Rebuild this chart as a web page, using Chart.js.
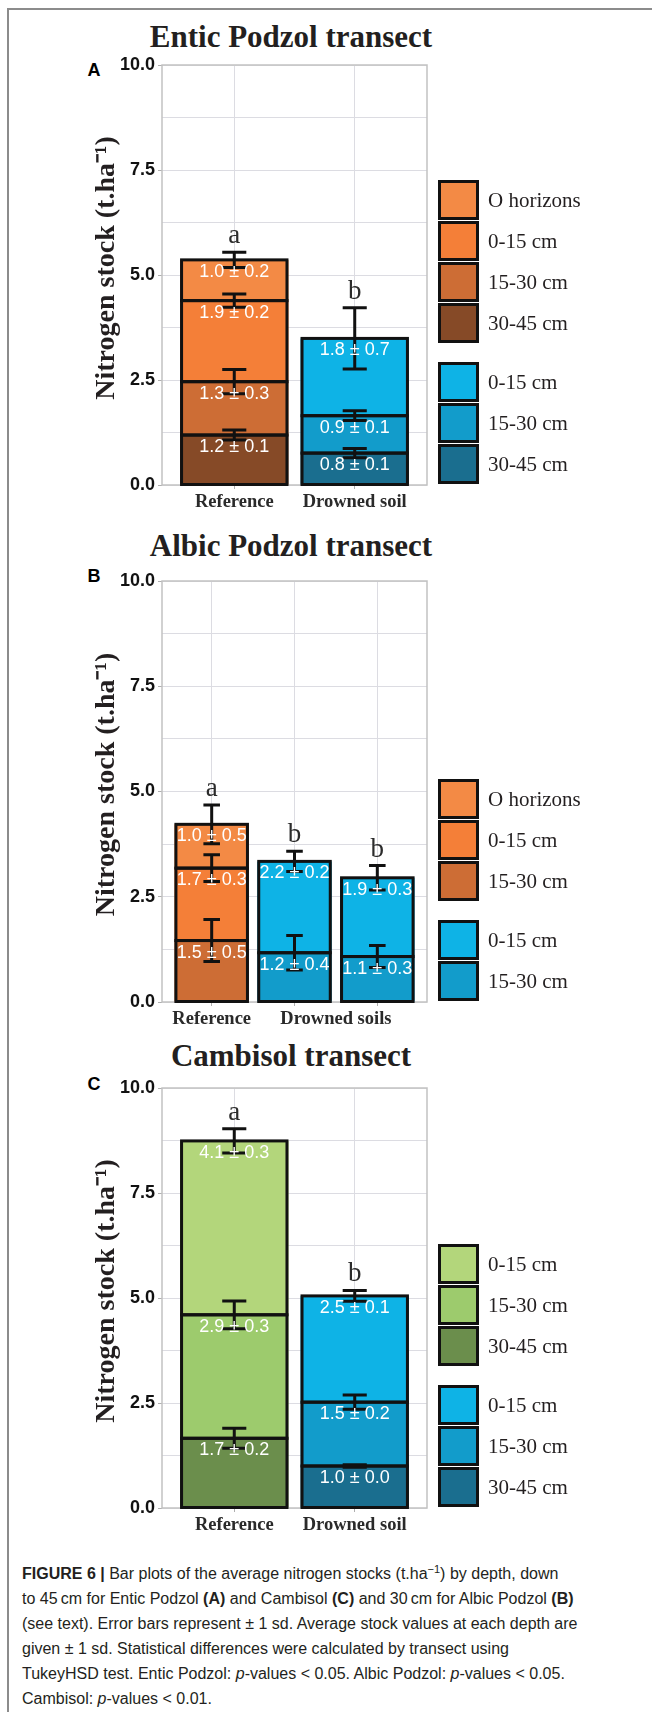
<!DOCTYPE html>
<html>
<head>
<meta charset="utf-8">
<script src="https://cdn.jsdelivr.net/npm/chart.js@4.4.0/dist/chart.umd.min.js"></script>
<style>
  body { margin: 0; background: #fff; }
  #page { position: relative; width: 652px; height: 1712px; overflow: hidden; font-family: 'Liberation Sans', Arial, sans-serif; }
  .frame { position: absolute; left: 7px; top: 8px; width: 700px; height: 1800px; border-left: 2px solid #8c8c8c; border-top: 2px solid #8c8c8c; }
  .ptitle { position: absolute; left: 0; width: 582px; text-align: center; font: bold 31px 'Liberation Serif', serif; color: #231f20; line-height: 36px; }
  .pletter { position: absolute; left: 84px; width: 20px; text-align: center; font: bold 18px 'Liberation Sans', Arial, sans-serif; line-height: 20px; color: #000; }
  canvas { position: absolute; left: 0; }
  .sw { position: absolute; left: 438px; width: 41px; height: 40px; box-sizing: border-box; border: 3px solid #111; }
  .swl { position: absolute; left: 488px; font: 21px 'Liberation Serif', serif; color: #231f20; line-height: 40px; white-space: nowrap; }
  .cap { position: absolute; left: 22px; font-size: 16px; line-height: 25px; color: #231f20; white-space: nowrap; }
  .cap sup { font-size: 11px; line-height: 0; }
</style>
</head>
<body>
<div id="page">
  <div class="frame"></div>

  <div class="ptitle" style="top:19px">Entic Podzol transect</div>
  <div class="pletter" style="top:60px">A</div>
  <canvas id="chartA" width="440" height="479" style="top:40px"></canvas>

  <div class="ptitle" style="top:528px">Albic Podzol transect</div>
  <div class="pletter" style="top:566px">B</div>
  <canvas id="chartB" width="440" height="480" style="top:556px"></canvas>

  <div class="ptitle" style="top:1038px">Cambisol transect</div>
  <div class="pletter" style="top:1074px">C</div>
  <canvas id="chartC" width="440" height="479" style="top:1063px"></canvas>

  <div id="legends"></div>

  <div class="cap" style="top:1561px"><b>FIGURE 6 |</b> Bar plots of the average nitrogen stocks (t.ha<sup>&minus;1</sup>) by depth, down</div>
  <div class="cap" style="top:1586px">to 45&thinsp;cm for Entic Podzol <b>(A)</b> and Cambisol <b>(C)</b> and 30&thinsp;cm for Albic Podzol <b>(B)</b></div>
  <div class="cap" style="top:1611px">(see text). Error bars represent &plusmn; 1 sd. Average stock values at each depth are</div>
  <div class="cap" style="top:1636px">given &plusmn; 1 sd. Statistical differences were calculated by transect using</div>
  <div class="cap" style="top:1661px">TukeyHSD test. Entic Podzol: <i>p</i>-values &lt; 0.05. Albic Podzol: <i>p</i>-values &lt; 0.05.</div>
  <div class="cap" style="top:1686px">Cambisol: <i>p</i>-values &lt; 0.01.</div>
</div>

<script>
// y axis
const yTicks = [0, 2.5, 5, 7.5, 10];

// A - Entic Podzol transect
const enticBars = ['Reference', 'Drowned soil'];
const entic3045 = [1.19, 0.76];
const entic1530 = [1.27, 0.89];
const entic015 = [1.93, 1.84];
const enticO = [0.97, null];
const enticSd3045 = [0.12, 0.11];
const enticSd1530 = [0.29, 0.115];
const enticSd015 = [0.16, 0.73];
const enticSdO = [0.18, null];
const enticLetters = ['a', 'b'];

// B - Albic Podzol transect
const albicBars = ['Reference', 'Drowned soils', 'Drowned soils'];
const albic1530 = [1.46, 1.17, 1.08];
const albic015 = [1.72, 2.17, 1.87];
const albicO = [1.04, null, null];
const albicSd1530 = [0.50, 0.41, 0.26];
const albicSd015 = [0.32, 0.24, 0.29];
const albicSdO = [0.46, null, null];
const albicLetters = ['a', 'b', 'b'];

// C - Cambisol transect
const cambiBars = ['Reference', 'Drowned soil'];
const cambi3045 = [1.66, 1.00];
const cambi1530 = [2.94, 1.52];
const cambi015 = [4.14, 2.53];
const cambiSd3045 = [0.24, 0.03];
const cambiSd1530 = [0.33, 0.17];
const cambiSd015 = [0.29, 0.13];
const cambiLetters = ['a', 'b'];

// colours [reference, drowned]
const colO = ['#F38A45', null];
const col015 = ['#F47F38', '#0EB3E6'];
const col1530 = ['#CD6D35', '#129CCB'];
const col3045 = ['#864A27', '#1A6E8F'];
const green015 = ['#B3D67B', '#0EB3E6'];
const green1530 = ['#9DCB6D', '#129CCB'];
const green3045 = ['#6B8E4C', '#1A6E8F'];

const serif = "'Liberation Serif', 'Times New Roman', serif";
const sans = "'Liberation Sans', Arial, sans-serif";

function marks(sds, letters) {
  return {
    id: 'marks',
    beforeDatasetsDraw(chart) {
      const { ctx, chartArea: a } = chart;
      ctx.save();
      ctx.strokeStyle = '#C2C2C2';
      ctx.lineWidth = 1.5;
      ctx.strokeRect(a.left, a.top, a.right - a.left, a.bottom - a.top);
      ctx.restore();
    },
    afterDatasetsDraw(chart) {
      const { ctx, scales: { x, y } } = chart;
      const sets = chart.data.datasets;
      const n = sets[0].data.length;
      const texts = [];
      ctx.save();
      // black outline of every stacked segment (drawn over the fills so no seams)
      ctx.strokeStyle = '#111';
      ctx.lineWidth = 3;
      sets.forEach((d, i) => {
        chart.getDatasetMeta(i).data.forEach((el, j) => {
          if (d.data[j].y == null) return;
          const w = el.width - 3;
          ctx.strokeRect(el.x - w / 2, el.y, w, el.base - el.y);
        });
      });
      for (let j = 0; j < n; j++) {
        let cum = 0, top = 0;
        const xm = x.getPixelForValue(j + 1);
        const xl = x.getPixelForValue(j + 0.9);
        const xr = x.getPixelForValue(j + 1.1);
        sets.forEach((d, i) => {
          const v = d.data[j].y;
          if (v == null) return;
          cum += v;
          const sd = sds[i][j];
          const y1 = y.getPixelForValue(cum + sd);
          const y0 = y.getPixelForValue(cum - sd);
          ctx.strokeStyle = '#111';
          ctx.lineWidth = 3;
          ctx.beginPath();
          ctx.moveTo(xm, y1); ctx.lineTo(xm, y0);
          ctx.moveTo(xl, y1); ctx.lineTo(xr, y1);
          ctx.moveTo(xl, y0); ctx.lineTo(xr, y0);
          ctx.stroke();
          texts.push([v.toFixed(1) + ' \u00b1 ' + sd.toFixed(1), xm, y.getPixelForValue(cum) + 12]);
          top = cum + sd;
        });
        ctx.fillStyle = '#2b2b2b';
        ctx.font = '27px ' + serif;
        ctx.textAlign = 'center';
        ctx.textBaseline = 'alphabetic';
        ctx.fillText(letters[j], xm, y.getPixelForValue(top) - 9);
      }
      ctx.fillStyle = '#fff';
      ctx.font = '18px ' + sans;
      ctx.textAlign = 'center';
      ctx.textBaseline = 'middle';
      texts.forEach(t => ctx.fillText(t[0], t[1], t[2]));
      ctx.restore();
    }
  };
}

function makePanel(id, bars, layers, sds, letters) {
  const groups = [];
  bars.forEach((b, i) => {
    let g = groups.find(q => q.name === b);
    if (!g) { g = { name: b, idx: [] }; groups.push(g); }
    g.idx.push(i + 1);
  });
  groups.forEach(g => { g.pos = g.idx.reduce((s, v) => s + v, 0) / g.idx.length; });

  const datasets = layers.map(l => ({
    label: l.label,
    data: l.values.map((v, i) => ({ x: i + 1, y: v })),
    backgroundColor: bars.map(b => b === 'Reference' ? l.colors[0] : l.colors[1]),
    borderWidth: 0,
    categoryPercentage: 0.9,
    barPercentage: 1
  }));

  const xMin = 0.4, xMax = bars.length + 0.6;
  return new Chart(document.getElementById(id), {
    type: 'bar',
    data: { datasets },
    options: {
      responsive: false,
      animation: false,
      layout: { padding: { left: 90, top: 25, right: 13, bottom: 0 } },
      plugins: { legend: { display: false }, tooltip: { enabled: false } },
      scales: {
        x: {
          type: 'linear', stacked: true, min: xMin, max: xMax, offset: false,
          afterBuildTicks: s => { s.ticks = bars.map((b, i) => ({ value: i + 1 })); },
          ticks: { display: false },
          grid: { offset: false, color: '#DCDCE2', lineWidth: 1, drawTicks: true, tickLength: 4, tickColor: '#AFAFAF' },
          border: { display: false },
          afterFit: s => { s.height = 4; }
        },
        x2: {
          type: 'linear', position: 'bottom', min: xMin, max: xMax, offset: false,
          afterBuildTicks: s => { s.ticks = groups.map(g => ({ value: g.pos })); },
          ticks: {
            autoSkip: false, maxRotation: 0, padding: 2, color: '#2a2a2a',
            font: { family: serif, size: 18.5, weight: 'bold' },
            callback: (v, i) => groups[i].name
          },
          grid: { display: false, drawTicks: false, offset: false },
          border: { display: false },
          afterFit: s => { s.height = 30; }
        },
        y: {
          stacked: true, min: 0, max: 10,
          ticks: {
            stepSize: 1.25, autoSkip: false, padding: 3, color: '#111',
            font: { family: sans, size: 18, weight: 'bold' },
            callback: v => yTicks.includes(v) ? v.toFixed(1) : ''
          },
          grid: {
            color: '#DCDCE2', lineWidth: 1, drawTicks: true, tickLength: 4,
            tickColor: c => yTicks.includes(c.tick.value) ? '#AFAFAF' : 'rgba(0,0,0,0)'
          },
          border: { display: false },
          title: {
            display: true, text: '\u2002Nitrogen stock (t.ha\u207b\u00b9)', color: '#231f20', padding: 0,
            font: { family: serif, size: 28, weight: 'bold' }
          },
          afterFit: s => { s.width = 72; }
        }
      }
    },
    plugins: [marks(sds, letters)]
  });
}

// html legend, bottom aligned with the plot
function makeLegend(chart, bars) {
  const box = document.getElementById('legends');
  const canvasTop = parseFloat(chart.canvas.style.top);
  const sets = chart.data.datasets.slice().reverse();
  const ref = sets.map(d => [d.label, d.backgroundColor[0]]);
  const dIdx = bars.findIndex(b => b !== 'Reference');
  const drown = sets.filter(d => d.data[dIdx].y != null).map(d => [d.label, d.backgroundColor[dIdx]]);
  const step = 41, gap = 18;
  let top = canvasTop + chart.chartArea.bottom - (ref.length + drown.length) * step - gap;
  [ref, drown].forEach(group => {
    group.forEach(([label, color]) => {
      const sw = document.createElement('div');
      sw.className = 'sw';
      sw.style.top = top + 'px';
      sw.style.background = color;
      box.appendChild(sw);
      const tx = document.createElement('div');
      tx.className = 'swl';
      tx.style.top = top + 'px';
      tx.textContent = label;
      box.appendChild(tx);
      top += step;
    });
    top += gap;
  });
}

const chartA = makePanel('chartA', enticBars, [
  { label: '30-45 cm', values: entic3045, colors: col3045 },
  { label: '15-30 cm', values: entic1530, colors: col1530 },
  { label: '0-15 cm', values: entic015, colors: col015 },
  { label: 'O horizons', values: enticO, colors: colO }
], [enticSd3045, enticSd1530, enticSd015, enticSdO], enticLetters);

const chartB = makePanel('chartB', albicBars, [
  { label: '15-30 cm', values: albic1530, colors: col1530 },
  { label: '0-15 cm', values: albic015, colors: col015 },
  { label: 'O horizons', values: albicO, colors: colO }
], [albicSd1530, albicSd015, albicSdO], albicLetters);

const chartC = makePanel('chartC', cambiBars, [
  { label: '30-45 cm', values: cambi3045, colors: green3045 },
  { label: '15-30 cm', values: cambi1530, colors: green1530 },
  { label: '0-15 cm', values: cambi015, colors: green015 }
], [cambiSd3045, cambiSd1530, cambiSd015], cambiLetters);

makeLegend(chartA, enticBars);
makeLegend(chartB, albicBars);
makeLegend(chartC, cambiBars);
</script>
</body>
</html>
